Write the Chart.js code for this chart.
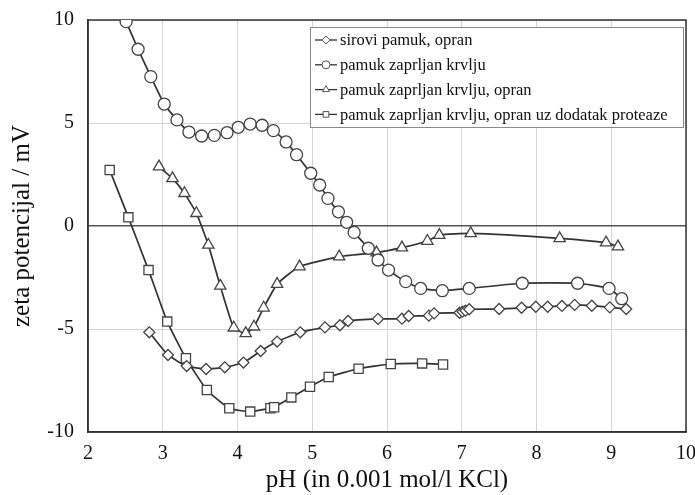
<!DOCTYPE html>
<html>
<head>
<meta charset="utf-8">
<script src="https://cdn.jsdelivr.net/npm/chart.js@4"></script>
<style>
  html, body { margin: 0; padding: 0; background: #fff; }
  #wrap { width: 695px; height: 495px; }
</style>
</head>
<body>
<div id="wrap"><canvas id="zetaChart" width="695" height="495"></canvas></div>
<script>
// series values (pH, zeta / mV)
const seriesNames = [
  'sirovi pamuk, opran',
  'pamuk zaprljan krvlju',
  'pamuk zaprljan krvlju, opran',
  'pamuk zaprljan krvlju, opran uz dodatak proteaze'
];

const sirovPH = [2.82, 3.07, 3.32, 3.58, 3.83, 4.08, 4.31, 4.53, 4.84, 5.17, 5.37, 5.48, 5.88, 6.20, 6.29, 6.56, 6.63, 6.97, 7.01, 7.05, 7.10, 7.50, 7.80, 7.99, 8.15, 8.34, 8.51, 8.74, 8.98, 9.20];
const sirovZeta = [-5.16, -6.26, -6.80, -6.94, -6.86, -6.63, -6.07, -5.61, -5.16, -4.92, -4.82, -4.61, -4.51, -4.50, -4.37, -4.35, -4.24, -4.21, -4.16, -4.11, -4.04, -4.03, -3.97, -3.92, -3.92, -3.88, -3.83, -3.87, -3.95, -4.03];

const krvPH = [2.51, 2.67, 2.84, 3.02, 3.19, 3.35, 3.52, 3.69, 3.86, 4.01, 4.17, 4.33, 4.48, 4.65, 4.79, 4.98, 5.10, 5.21, 5.35, 5.46, 5.56, 5.75, 5.88, 6.02, 6.25, 6.45, 6.74, 7.10, 7.81, 8.55, 8.97, 9.14];
const krvZeta = [9.92, 8.58, 7.25, 5.92, 5.15, 4.56, 4.37, 4.40, 4.53, 4.79, 4.95, 4.89, 4.63, 4.08, 3.46, 2.56, 1.99, 1.34, 0.69, 0.18, -0.31, -1.08, -1.65, -2.14, -2.70, -3.03, -3.14, -3.03, -2.78, -2.78, -3.03, -3.53];

const opranPH = [2.95, 3.13, 3.29, 3.45, 3.61, 3.77, 3.95, 4.11, 4.22, 4.35, 4.53, 4.83, 5.36, 5.86, 6.20, 6.54, 6.70, 7.12, 8.31, 8.93, 9.09];
const opranZeta = [2.88, 2.31, 1.59, 0.62, -0.92, -2.91, -4.94, -5.21, -4.89, -3.97, -2.82, -1.97, -1.49, -1.29, -1.05, -0.73, -0.44, -0.36, -0.60, -0.81, -1.00];

const proteazaPH = [2.29, 2.54, 2.81, 3.06, 3.31, 3.59, 3.89, 4.17, 4.44, 4.49, 4.72, 4.97, 5.22, 5.62, 6.05, 6.47, 6.75];
const proteazaZeta = [2.72, 0.42, -2.14, -4.64, -6.42, -7.96, -8.85, -9.01, -8.85, -8.80, -8.32, -7.80, -7.33, -6.93, -6.70, -6.67, -6.72];

const xTicks = [2, 3, 4, 5, 6, 7, 8, 9, 10];
const yTicks = [-10, -5, 0, 5, 10];

const serif = '"Liberation Serif", "Times New Roman", serif';
const lineColor = '#333';

function toPoints(xs, ys) {
  return xs.map((x, i) => ({ x: x, y: ys[i] }));
}

const styles = [
  { pointStyle: 'rectRot', radius: 5.5 },
  { pointStyle: 'circle', radius: 6 },
  { pointStyle: 'triangle', radius: 6.5 },
  { pointStyle: 'rect', radius: 6.5 }
];

const allData = [
  toPoints(sirovPH, sirovZeta),
  toPoints(krvPH, krvZeta),
  toPoints(opranPH, opranZeta),
  toPoints(proteazaPH, proteazaZeta)
];

const datasets = allData.map((d, i) => ({
  label: seriesNames[i],
  data: d,
  showLine: true,
  borderColor: lineColor,
  borderWidth: 1.7,
  backgroundColor: '#ffffff',
  pointBackgroundColor: '#ffffff',
  pointBorderColor: '#444',
  pointBorderWidth: 1.3,
  pointStyle: styles[i].pointStyle,
  pointRadius: styles[i].radius,
  tension: 0.15
}));

// full frame round the plot + legend box inside it
const boxLegend = {
  id: 'boxLegend',
  beforeDatasetsDraw(chart) {
    const a = chart.chartArea;
    const ctx = chart.ctx;
    ctx.save();
    ctx.strokeStyle = '#333';
    ctx.lineWidth = 1.5;
    ctx.strokeRect(a.left, a.top, a.right - a.left, a.bottom - a.top);
    ctx.restore();
  },
  afterDatasetsDraw(chart) {
    const ctx = chart.ctx;
    const left = 310, top = 27, right = 683, bottom = 127;
    ctx.save();
    ctx.fillStyle = '#fff';
    ctx.fillRect(left, top, right - left, bottom - top);
    ctx.strokeStyle = '#8a8a8a';
    ctx.lineWidth = 1;
    ctx.strokeRect(left + 0.5, top + 0.5, right - left, bottom - top);
    ctx.font = '16.5px ' + serif;
    ctx.textBaseline = 'middle';
    seriesNames.forEach((name, i) => {
      const y = 40 + i * 24.8;
      ctx.strokeStyle = lineColor;
      ctx.lineWidth = 1.3;
      ctx.beginPath();
      ctx.moveTo(315, y);
      ctx.lineTo(337, y);
      ctx.stroke();
      ctx.fillStyle = '#fff';
      ctx.strokeStyle = '#555';
      ctx.lineWidth = 1;
      Chart.helpers.drawPoint(ctx, { pointStyle: styles[i].pointStyle, radius: 4, rotation: 0, borderWidth: 1 }, 326, y);
      ctx.fillStyle = '#111';
      ctx.fillText(name, 340, y + 1);
    });
    ctx.restore();
  }
};

const zetaChart = new Chart(document.getElementById('zetaChart').getContext('2d'), {
  type: 'scatter',
  data: { datasets: datasets },
  options: {
    responsive: false,
    animation: false,
    layout: { padding: { top: 20, right: 9, left: 0, bottom: 0 } },
    plugins: {
      legend: { display: false },
      tooltip: { enabled: false }
    },
    scales: {
      x: {
        type: 'linear',
        min: 2,
        max: 10,
        afterBuildTicks: (s) => { s.ticks = xTicks.map(v => ({ value: v })); },
        afterFit: (s) => { s.height = 63; s.paddingLeft = 0; s.paddingRight = 0; },
        border: { color: '#333', width: 1.5 },
        grid: { color: '#d4d4d4', lineWidth: 1, drawTicks: false },
        ticks: { color: '#111', font: { family: serif, size: 20 }, padding: 10 },
        title: {
          display: true,
          text: 'pH (in 0.001 mol/l KCl)',
          color: '#111',
          font: { family: serif, size: 25 },
          padding: { top: 0, bottom: 0 }
        }
      },
      y: {
        type: 'linear',
        min: -10,
        max: 10,
        afterBuildTicks: (s) => { s.ticks = yTicks.map(v => ({ value: v })); },
        afterFit: (s) => { s.width = 88; s.paddingTop = 0; s.paddingBottom = 0; },
        border: { color: '#333', width: 1.5 },
        grid: {
          color: (c) => (c.tick && c.tick.value === 0 ? '#555' : '#d4d4d4'),
          lineWidth: (c) => (c.tick && c.tick.value === 0 ? 1.5 : 1),
          drawTicks: false
        },
        ticks: { color: '#111', font: { family: serif, size: 20 }, padding: 14 },
        title: {
          display: true,
          text: 'zeta potencijal / mV',
          color: '#111',
          font: { family: serif, size: 25 },
          padding: { top: 7, bottom: 0 }
        }
      }
    }
  },
  plugins: [boxLegend]
});
</script>
</body>
</html>
